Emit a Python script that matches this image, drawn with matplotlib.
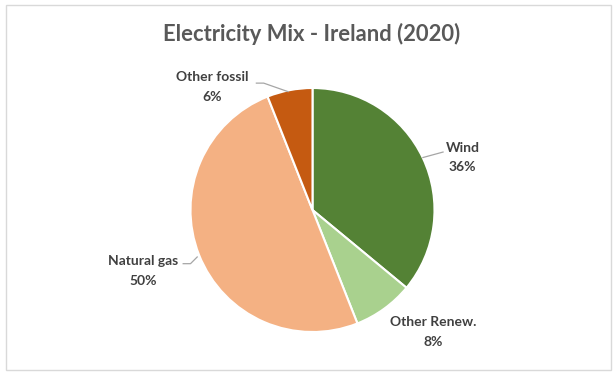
import matplotlib
matplotlib.use('Agg')
import matplotlib.pyplot as plt
from matplotlib.patches import Rectangle

# chart data
labels = ['Wind', 'Other Renew.', 'Natural gas', 'Other fossil']
shares = [36, 8, 50, 6]
colors = ['#548235', '#A9D18E', '#F4B183', '#C55A11']
title = 'Electricity Mix - Ireland (2020)'

plt.rcParams['font.family'] = ['Lato', 'DejaVu Sans']

W, H = 614, 372
fig = plt.figure(figsize=(W / 100, H / 100), dpi=100)

# pie centre (312.5, 210) px, radius 122 px
r_px = 122
cx, cy = 312.5, 210
xl, yl = 2.5, 1.3
ax = fig.add_axes([(cx - xl * r_px) / W, (H - cy - yl * r_px) / H,
                   2 * xl * r_px / W, 2 * yl * r_px / H])

wedges, _ = ax.pie(shares, colors=colors, startangle=90, counterclock=False,
                   wedgeprops=dict(edgecolor='white', linewidth=1.5))
ax.set_xlim(-xl, xl)
ax.set_ylim(-yl, yl)
ax.axis('off')

# label placement (layout only)
label_pos = [(1.23, 0.43), (0.99, -1.0), (-1.39, -0.50), (-0.82, 1.01)]
leaders = [
    [(0.905, 0.43), (1.07, 0.475)],
    None,
    [(-0.945, -0.385), (-1.0, -0.44), (-1.06, -0.44)],
    [(-0.20, 0.97), (-0.40, 1.04), (-0.46, 1.04)],
]

for lab, val, pos, ld in zip(labels, shares, label_pos, leaders):
    ax.text(pos[0], pos[1], f'{lab}\n{val}%', ha='center', va='center',
            fontsize=10, fontweight='bold', color='#404040', linespacing=1.75)
    if ld:
        xs, ys = zip(*ld)
        ax.plot(xs, ys, color='#A6A6A6', lw=0.9)

fig.text(312 / W, 1 - 34 / H, title, ha='center', va='center',
         fontsize=15.8, fontweight='bold', color='#595959')

fig.patches.append(Rectangle((6 / W, 2 / H), 605 / W, 365 / H,
                             transform=fig.transFigure, fill=False,
                             edgecolor='#D9D9D9', lw=1))

fig.savefig('out.png', dpi=100, facecolor='white')
